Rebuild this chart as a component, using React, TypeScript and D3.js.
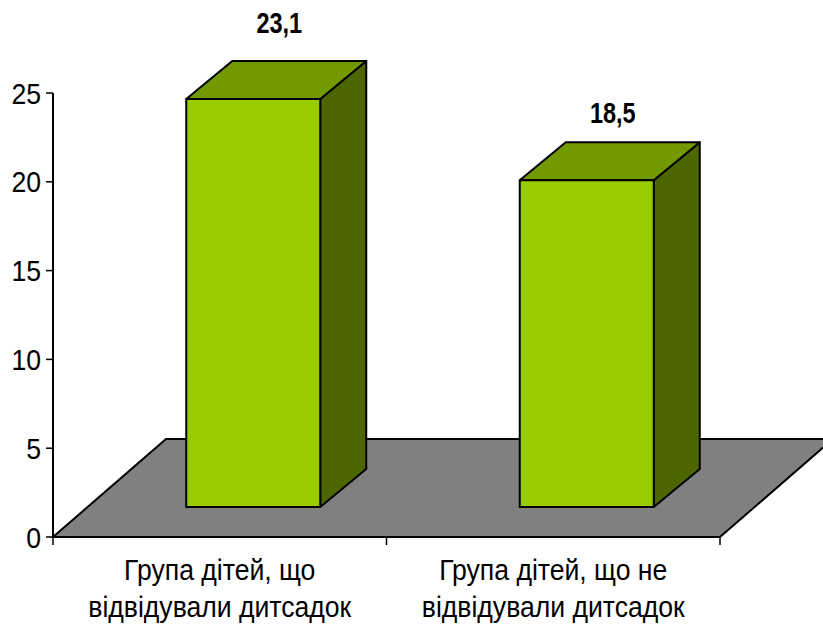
import React from "react";
import * as d3 from "d3";

const categories = [["Група дітей, що", "відвідували дитсадок"], ["Група дітей, що не", "відвідували дитсадок"]];
const values = [23.1, 18.5];
const valueLabels = ["23,1", "18,5"];
const ticks = [0, 5, 10, 15, 20, 25];

const W = 823, H = 625;
const x0 = 53, x1 = 720, yBase = 537, yTop = 93;
const floorDx = 113, floorDy = 98;
const barShiftX = 33.5, barBase = 507, depthX = 46, depthY = 38;
const font = "'Liberation Sans', Arial, sans-serif";

function Label({ x, y, s, anchor = "middle", bold = false, sx = 0.917 }: { x: number; y: number; s: string | number; anchor?: string; bold?: boolean; sx?: number }) {
  return (
    <text transform={`translate(${x},${y}) scale(${sx},1)`} textAnchor={anchor} fontFamily={font} fontWeight={bold ? "bold" : "normal"} fontSize={29} stroke="none" fill="#000">{s}</text>
  );
}

export default function App() {
  const y = d3.scaleLinear().domain([0, 25]).range([yBase, yTop]);
  const yBar = d3.scaleLinear().domain([0, 25]).range([barBase, barBase - 441.5]);
  const x = d3.scaleBand<number>().domain([0, 1]).range([x0, x1]);
  const barW = 134;
  const floor = d3.line()([[x0, yBase], [x0 + floorDx, yBase - floorDy], [x1 + floorDx, yBase - floorDy], [x1, yBase]]) + "Z";
  const labelOffsets = [66, 57];
  return (
    <svg width={W} height={H} style={{ position: "absolute", left: 0, top: 0, background: "#fff" }}>
      <path d={floor} fill="#808080" stroke="#000" strokeWidth={2} />
      {values.map((v, i) => {
        const cx = x(i)! + x.bandwidth() / 2 + barShiftX;
        const l = cx - barW / 2, r = cx + barW / 2;
        const b = yBar(0), t = yBar(v);
        const front = d3.line()([[l, b], [l, t], [r, t], [r, b]]) + "Z";
        const top = d3.line()([[l, t], [l + depthX, t - depthY], [r + depthX, t - depthY], [r, t]]) + "Z";
        const side = d3.line()([[r, t], [r + depthX, t - depthY], [r + depthX, b - depthY], [r, b]]) + "Z";
        return (
          <g key={i} stroke="#000" strokeWidth={2} strokeLinejoin="round">
            <path d={side} fill="#4d6600" />
            <path d={top} fill="#739900" />
            <path d={front} fill="#99cc00" />
            <Label x={cx + 26} y={t - labelOffsets[i]} s={valueLabels[i]} bold sx={0.81} />
          </g>
        );
      })}
      <line x1={x0} x2={x0} y1={yTop} y2={yBase} stroke="#000" strokeWidth={2} />
      <line x1={x0} x2={x1} y1={yBase} y2={yBase} stroke="#000" strokeWidth={2} />
      {ticks.map((t) => (
        <g key={t}>
          <line x1={x0 - 7} x2={x0} y1={y(t)} y2={y(t)} stroke="#000" strokeWidth={1.5} />
          <Label x={41} y={y(t) + 10.5} s={t} anchor="end" />
        </g>
      ))}
      {[0, 1, 2].map((i) => {
        const px = x0 + (i * (x1 - x0)) / 2;
        return <line key={i} x1={px} x2={px} y1={yBase} y2={yBase + 8} stroke="#000" strokeWidth={1.5} />;
      })}
      {categories.map((c, i) => (
        <g key={i}>
          {c.map((s, j) => (
            <Label key={j} x={x(i)! + x.bandwidth() / 2} y={580 + j * 37} s={s} />
          ))}
        </g>
      ))}
    </svg>
  );
}
